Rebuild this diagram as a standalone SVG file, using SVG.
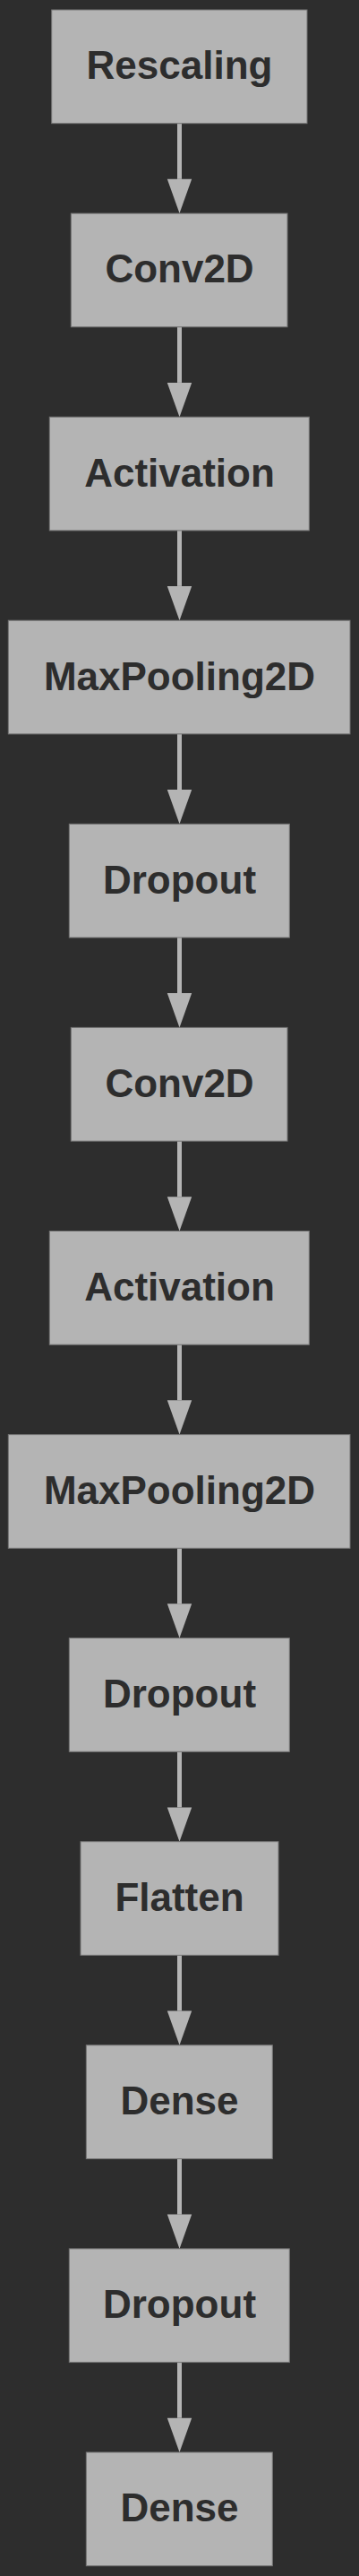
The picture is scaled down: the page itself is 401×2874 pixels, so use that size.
<svg xmlns="http://www.w3.org/2000/svg" width="401" height="2874" viewBox="0 0 401 2874">
<style>
.node rect{fill:#b4b4b4;stroke:#767676;stroke-width:1}
.node text{font-family:"Liberation Sans",Arial,sans-serif;font-weight:bold;font-size:44px;fill:#2d2d2d;text-anchor:middle}
.edge{stroke:#b4b4b4;stroke-width:5;fill:none;marker-end:url(#ah)}
</style>
<defs>
<marker id="ah" markerUnits="userSpaceOnUse" markerWidth="40" markerHeight="30" refX="0" refY="13.7" orient="auto" viewBox="0 0 40 27.4" overflow="visible">
<path d="M0,0 L38.3,13.7 L0,27.4 Z" fill="#b4b4b4"/>
</marker>
</defs>
<rect x="0" y="0" width="401" height="2874" fill="#2d2d2d"/>
<g id="connectors">
<line class="edge" x1="200.5" y1="137.7" x2="200.5" y2="199.8"/>
<line class="edge" x1="200.5" y1="364.8" x2="200.5" y2="426.9"/>
<line class="edge" x1="200.5" y1="591.9" x2="200.5" y2="653.9"/>
<line class="edge" x1="200.5" y1="818.9" x2="200.5" y2="881.0"/>
<line class="edge" x1="200.5" y1="1046.0" x2="200.5" y2="1108.1"/>
<line class="edge" x1="200.5" y1="1273.1" x2="200.5" y2="1335.2"/>
<line class="edge" x1="200.5" y1="1500.2" x2="200.5" y2="1562.3"/>
<line class="edge" x1="200.5" y1="1727.3" x2="200.5" y2="1789.3"/>
<line class="edge" x1="200.5" y1="1954.3" x2="200.5" y2="2016.4"/>
<line class="edge" x1="200.5" y1="2181.4" x2="200.5" y2="2243.5"/>
<line class="edge" x1="200.5" y1="2408.5" x2="200.5" y2="2470.6"/>
<line class="edge" x1="200.5" y1="2635.6" x2="200.5" y2="2697.7"/>
</g>
<g id="n0" class="node"><rect x="57.7" y="11" width="285.3" height="126.7"/><text x="200.5" y="88.3">Rescaling</text></g>
<g id="n1" class="node"><rect x="79.3" y="238.1" width="241.7" height="126.7"/><text x="200.5" y="315.4">Conv2D</text></g>
<g id="n2" class="node"><rect x="55.3" y="465.2" width="290" height="126.7"/><text x="200.5" y="542.5">Activation</text></g>
<g id="n3" class="node"><rect x="9.3" y="692.2" width="381.7" height="126.7"/><text x="200.5" y="769.5">MaxPooling2D</text></g>
<g id="n4" class="node"><rect x="77.3" y="919.3" width="246" height="126.7"/><text x="200.5" y="996.6">Dropout</text></g>
<g id="n5" class="node"><rect x="79.3" y="1146.4" width="241.7" height="126.7"/><text x="200.5" y="1223.7">Conv2D</text></g>
<g id="n6" class="node"><rect x="55.3" y="1373.5" width="290" height="126.7"/><text x="200.5" y="1450.8">Activation</text></g>
<g id="n7" class="node"><rect x="9.3" y="1600.6" width="381.7" height="126.7"/><text x="200.5" y="1677.9">MaxPooling2D</text></g>
<g id="n8" class="node"><rect x="77.3" y="1827.6" width="246" height="126.7"/><text x="200.5" y="1904.9">Dropout</text></g>
<g id="n9" class="node"><rect x="90" y="2054.7" width="221" height="126.7"/><text x="200.5" y="2132.0">Flatten</text></g>
<g id="n10" class="node"><rect x="96.3" y="2281.8" width="208" height="126.7"/><text x="200.5" y="2359.1">Dense</text></g>
<g id="n11" class="node"><rect x="77.3" y="2508.9" width="246" height="126.7"/><text x="200.5" y="2586.2">Dropout</text></g>
<g id="n12" class="node"><rect x="96.3" y="2736" width="208" height="126.7"/><text x="200.5" y="2813.3">Dense</text></g>
</svg>
